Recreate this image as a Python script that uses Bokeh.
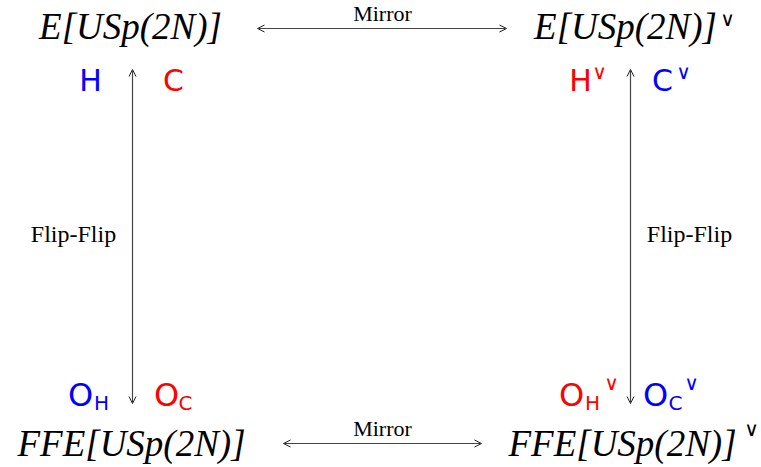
from bokeh.plotting import figure
from bokeh.models import Range1d, Arrow, OpenHead
from bokeh.core.properties import value
from bokeh.embed import file_html
from bokeh.resources import INLINE

# ---- content ----
node_labels = ["E[USp(2N)]", "E[USp(2N)]", "FFE[USp(2N)]", "FFE[USp(2N)]"]
node_dual = [False, True, False, True]
edge_labels = ["Mirror", "Mirror", "Flip-Flip", "Flip-Flip"]
top_symbols = ["H", "C", "H", "C"]
top_colors = ["blue", "red", "red", "blue"]
top_dual = [False, False, True, True]
bottom_main = ["O", "O", "O", "O"]
bottom_subs = ["H", "C", "H", "C"]
bottom_colors = ["blue", "red", "red", "blue"]
bottom_dual = [False, False, True, True]
DUAL = "\u2228"

# ---- layout (picture pixel coordinates) ----
node_x = [130, 625, 131, 622]
node_y = [26, 26, 443, 443]
dual_x = [None, 727, None, 751]
dual_y = [None, 18, None, 428]

edge_x = [382, 382, 73, 689]
edge_y = [13, 428, 233, 233]
edge_size = ["22px", "22px", "24px", "24px"]

arrows = [  # x0, y0, x1, y1
    (257, 28, 506, 28),
    (283, 443, 481, 443),
    (132, 69, 132, 403),
    (630, 69, 630, 403),
]

top_x = [90, 173, 580, 662]
top_base = 80
top_dual_x = [None, None, 599, 683]

bot_x = [80, 166, 571, 655]
bot_sub_x = [101, 185, 592, 675]
bot_dual_x = [None, None, 611, 691]

W, H = 761, 467
p = figure(width=W, height=H, output_backend="svg", toolbar_location=None,
           x_range=Range1d(0, W), y_range=Range1d(H, 0),
           min_border=0, background_fill_color="white", border_fill_color="white")
p.axis.visible = False
p.grid.visible = False
p.outline_line_color = None

MATH = value("Liberation Serif")
SERIF = value("Liberation Serif")
SANS = value("DejaVu Sans")

# nodes
p.text(x=node_x, y=node_y, text=node_labels, text_font=MATH, text_font_style="italic",
       text_font_size="37px", text_align="center", text_baseline="alphabetic", text_color="black")
dx = [dual_x[i] for i in range(4) if node_dual[i]]
dy = [dual_y[i] for i in range(4) if node_dual[i]]
p.text(x=dx, y=dy, text=[DUAL] * len(dx), text_font=SANS, text_font_size="20px",
       text_align="center", text_baseline="middle", text_color="black")

# edge labels
for i in range(4):
    p.text(x=[edge_x[i]], y=[edge_y[i]], text=[edge_labels[i]], text_font=SERIF,
           text_font_size=edge_size[i], text_align="center", text_baseline="alphabetic",
           text_color="black")

# arrows
for (x0, y0, x1, y1) in arrows:
    p.add_layout(Arrow(start=OpenHead(size=7, line_width=1, line_color="#222222"),
                       end=OpenHead(size=7, line_width=1, line_color="#222222"),
                       x_start=x0, y_start=y0, x_end=x1, y_end=y1,
                       line_width=1.2, line_color="#444444"))

# top symbols H, C
p.text(x=top_x, y=[top_base] * 4, text=top_symbols, text_font=SANS, text_font_size="30px",
       text_align="center", text_baseline="alphabetic", text_color=top_colors)
tdx = [top_dual_x[i] for i in range(4) if top_dual[i]]
tdc = [top_colors[i] for i in range(4) if top_dual[i]]
p.text(x=tdx, y=[71] * len(tdx), text=[DUAL] * len(tdx), text_font=SANS, text_font_size="20px",
       text_align="center", text_baseline="middle", text_color=tdc)

# bottom symbols O_H, O_C
p.text(x=bot_x, y=[394] * 4, text=bottom_main, text_font=SANS, text_font_size="32px",
       text_align="center", text_baseline="alphabetic", text_color=bottom_colors)
p.text(x=bot_sub_x, y=[402] * 4, text=bottom_subs, text_font=SANS, text_font_size="20px",
       text_align="center", text_baseline="alphabetic", text_color=bottom_colors)
bdx = [bot_dual_x[i] for i in range(4) if bottom_dual[i]]
bdc = [bottom_colors[i] for i in range(4) if bottom_dual[i]]
p.text(x=bdx, y=[382] * len(bdx), text=[DUAL] * len(bdx), text_font=SANS, text_font_size="20px",
       text_align="center", text_baseline="middle", text_color=bdc)

open("out.html", "w").write(file_html(p, INLINE))
